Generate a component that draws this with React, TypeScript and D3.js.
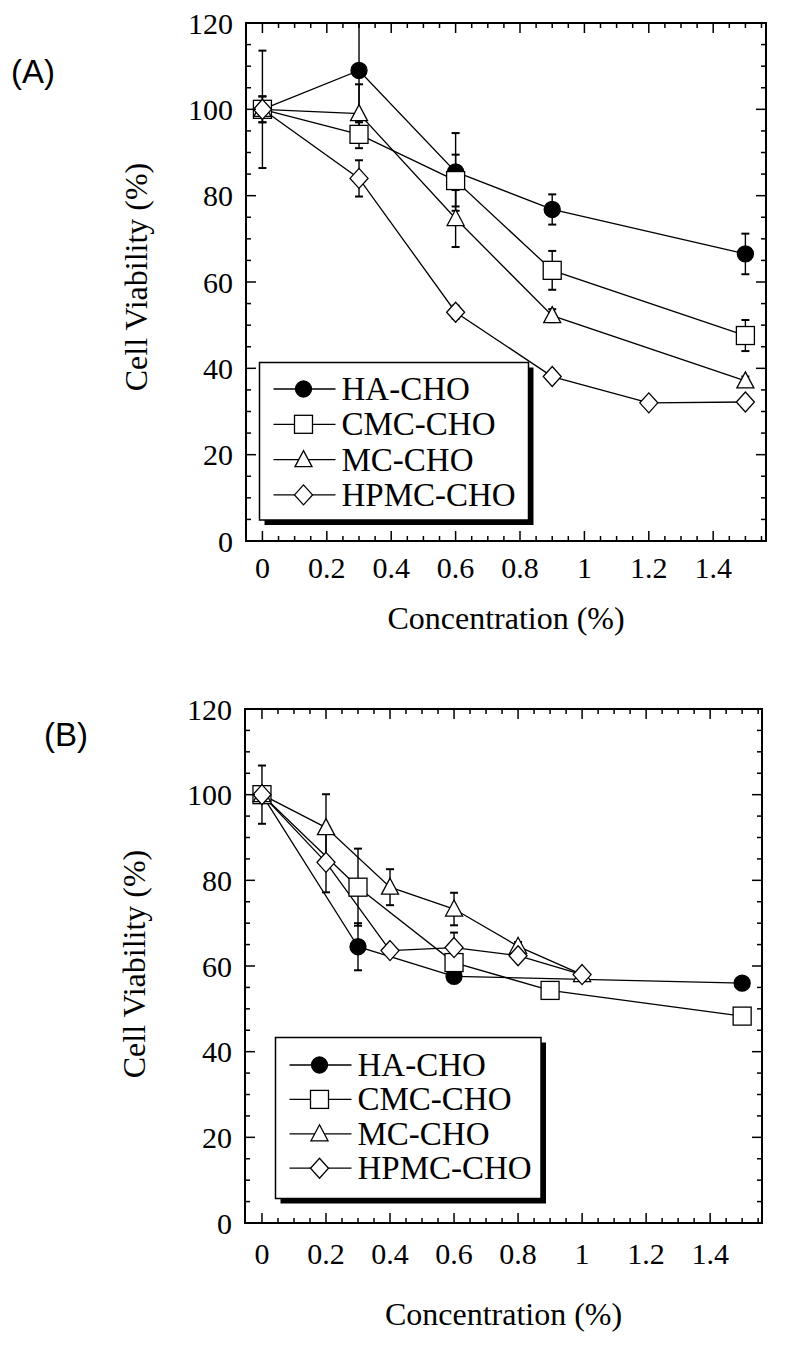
import React from "react";
import * as d3 from "d3";

// ---------- Data ----------
const seriesNames = ["HA-CHO", "CMC-CHO", "MC-CHO", "HPMC-CHO"];
const seriesMarkers = ["circle", "square", "triangle", "diamond"];

const xTickValues = [0, 0.2, 0.4, 0.6, 0.8, 1, 1.2, 1.4];
const yTickValues = [0, 20, 40, 60, 80, 100, 120];

// Panel A
const aHAx = [0, 0.3, 0.6, 0.9, 1.5];
const aHAy = [100, 109, 85.5, 76.8, 66.5];
const aHAe = [3, 12, 9, 3.5, 4.7];
const aCMCx = [0, 0.3, 0.6, 0.9, 1.5];
const aCMCy = [100, 94.2, 83.5, 62.7, 47.6];
const aCMCe = [3, 3.2, 6, 4.5, 3.6];
const aMCx = [0, 0.3, 0.6, 0.9, 1.5];
const aMCy = [100, 99, 74.7, 52.2, 37.1];
const aMCe = [13.6, 6.8, 6.6, 1.5, 1];
const aHPMCx = [0, 0.3, 0.6, 0.9, 1.2, 1.5];
const aHPMCy = [100, 84, 53, 38.1, 32, 32.2];
const aHPMCe = [1, 4.2, 1.5, 1, 0.5, 0.5];

// Panel B
const bHAx = [0, 0.3, 0.6, 1.5];
const bHAy = [100, 64.5, 57.6, 56];
const bHAe = [6.8, 5.5, 1, 1];
const bCMCx = [0, 0.3, 0.6, 0.9, 1.5];
const bCMCy = [100, 78.4, 60.8, 54.3, 48.3];
const bCMCe = [1, 9, 1, 1, 1];
const bMCx = [0, 0.2, 0.4, 0.6, 0.8, 1.0];
const bMCy = [100, 92.3, 78.4, 73.3, 64.6, 58];
const bMCe = [1, 7.8, 4.2, 3.8, 1, 1];
const bHPMCx = [0, 0.2, 0.4, 0.6, 0.8, 1.0];
const bHPMCy = [100, 84.2, 63.6, 64.3, 62.4, 58];
const bHPMCe = [1, 7, 1, 3.5, 1, 1];

const panelAData = [
  { x: aHAx, y: aHAy, e: aHAe },
  { x: aCMCx, y: aCMCy, e: aCMCe },
  { x: aMCx, y: aMCy, e: aMCe },
  { x: aHPMCx, y: aHPMCy, e: aHPMCe },
];
const panelBData = [
  { x: bHAx, y: bHAy, e: bHAe },
  { x: bCMCx, y: bCMCy, e: bCMCe },
  { x: bMCx, y: bMCy, e: bMCe },
  { x: bHPMCx, y: bHPMCy, e: bHPMCe },
];

const SERIF = "Liberation Serif";
const SANS = "Liberation Sans";

function Marker({ type, cx, cy }) {
  const sw = 1.3;
  if (type === "circle") return <circle cx={cx} cy={cy} r={8} fill="#000" stroke="#000" strokeWidth={sw} />;
  if (type === "square")
    return <rect x={cx - 9} y={cy - 9} width={18} height={18} fill="#fff" stroke="#000" strokeWidth={sw} />;
  if (type === "triangle")
    return (
      <path
        d={`M${cx},${cy - 9}L${cx + 8.5},${cy + 7}L${cx - 8.5},${cy + 7}Z`}
        fill="#fff"
        stroke="#000"
        strokeWidth={sw}
      />
    );
  return (
    <path
      d={`M${cx},${cy - 10}L${cx + 9},${cy}L${cx},${cy + 10}L${cx - 9},${cy}Z`}
      fill="#fff"
      stroke="#000"
      strokeWidth={sw}
    />
  );
}

function Panel({ cfg, data }) {
  const { left, right, top, bottom, xDomain } = cfg;
  const x = d3.scaleLinear().domain(xDomain).range([left, right]);
  const y = d3.scaleLinear().domain([0, 120]).range([bottom, top]);
  const line = d3
    .line<[number, number]>()
    .x((d) => x(d[0]))
    .y((d) => y(d[1]));
  const clipId = `clip-${cfg.id}`;

  const xMinor = d3.range(0, 1.5501, 0.05).map((v) => Math.round(v * 100) / 100);
  const yMinor = d3.range(0, 120.01, 5);
  const isMajorX = (v) => Math.abs(v / 0.2 - Math.round(v / 0.2)) < 1e-6;
  const isMajorY = (v) => v % 20 === 0;

  const tickEls = [];
  xMinor.forEach((v, i) => {
    const len = isMajorX(v) ? 10 : 5;
    const px = x(v);
    tickEls.push(<line key={`xb${i}`} x1={px} x2={px} y1={bottom} y2={bottom - len} stroke="#000" strokeWidth={1.5} />);
    tickEls.push(<line key={`xt${i}`} x1={px} x2={px} y1={top} y2={top + len} stroke="#000" strokeWidth={1.5} />);
  });
  yMinor.forEach((v, i) => {
    if (v === 0 || v === 120) return;
    const len = isMajorY(v) ? 10 : 5;
    const py = y(v);
    tickEls.push(<line key={`yl${i}`} x1={left} x2={left + len} y1={py} y2={py} stroke="#000" strokeWidth={1.5} />);
    tickEls.push(<line key={`yr${i}`} x1={right} x2={right - len} y1={py} y2={py} stroke="#000" strokeWidth={1.5} />);
  });

  const lg = cfg.legend;

  return (
    <g>
      <defs>
        <clipPath id={clipId}>
          <rect x={left} y={top} width={right - left} height={bottom - top} />
        </clipPath>
      </defs>
      {/* Panel label */}
      <text x={cfg.labelX} y={cfg.labelY} style={{ fontFamily: SANS }} fontSize={33} fill="#000">
        {cfg.label}
      </text>
      {/* error bars and lines */}
      <g clipPath={`url(#${clipId})`}>
        {data.map((s, si) =>
          s.x.map((xv, i) => {
            const px = x(xv);
            const y1 = y(s.y[i] + s.e[i]);
            const y2 = y(s.y[i] - s.e[i]);
            return (
              <g key={`e${si}-${i}`} stroke="#000" strokeWidth={1.4}>
                <line x1={px} x2={px} y1={y1} y2={y2} />
                <line x1={px - 4} x2={px + 4} y1={y1} y2={y1} strokeWidth={2} />
                <line x1={px - 4} x2={px + 4} y1={y2} y2={y2} strokeWidth={2} />
              </g>
            );
          })
        )}
        {data.map((s, si) => (
          <path
            key={`l${si}`}
            d={line(s.x.map((xv, i) => [xv, s.y[i]]))}
            fill="none"
            stroke="#000"
            strokeWidth={1.3}
          />
        ))}
      </g>
      {/* markers */}
      {data.map((s, si) =>
        s.x.map((xv, i) => <Marker key={`m${si}-${i}`} type={seriesMarkers[si]} cx={x(xv)} cy={y(s.y[i])} />)
      )}
      {/* ticks */}
      {tickEls}
      {/* frame */}
      <rect x={left} y={top} width={right - left} height={bottom - top} fill="none" stroke="#000" strokeWidth={2} />
      {/* y tick labels */}
      {yTickValues.map((v) => (
        <text
          key={`yl${v}`}
          x={left - 13}
          y={y(v)}
          textAnchor="end"
          dominantBaseline="central"
          style={{ fontFamily: SERIF }}
          fontSize={30}
          fill="#000"
        >
          {v}
        </text>
      ))}
      {/* x tick labels */}
      {xTickValues.map((v) => (
        <text
          key={`xl${v}`}
          x={x(v)}
          y={cfg.xTickBaseline}
          textAnchor="middle"
          style={{ fontFamily: SERIF }}
          fontSize={30}
          fill="#000"
        >
          {String(v)}
        </text>
      ))}
      {/* axis titles */}
      <text
        x={(left + right) / 2}
        y={cfg.xTitleBaseline}
        textAnchor="middle"
        style={{ fontFamily: SERIF }}
        fontSize={32}
        fill="#000"
      >
        Concentration (%)
      </text>
      <text
        transform={`translate(${cfg.yTitleX},${cfg.yTitleY}) rotate(-90)`}
        textAnchor="middle"
        style={{ fontFamily: SERIF }}
        fontSize={32}
        fill="#000"
      >
        Cell Viability (%)
      </text>
      {/* legend */}
      <rect x={lg.x + 5} y={lg.y + 5} width={lg.w} height={lg.h} fill="#000" />
      <rect x={lg.x} y={lg.y} width={lg.w} height={lg.h} fill="#fff" stroke="#000" strokeWidth={1.5} />
      {seriesNames.map((name, i) => {
        const ry = lg.y + lg.firstRow + i * lg.rowGap;
        return (
          <g key={`lg${i}`}>
            <line x1={lg.x + 14} x2={lg.x + 76} y1={ry} y2={ry} stroke="#000" strokeWidth={1.3} />
            <Marker type={seriesMarkers[i]} cx={lg.x + 44} cy={ry} />
            <text x={lg.x + 82} y={ry + 11} style={{ fontFamily: SERIF }} fontSize={33} fill="#000">
              {name}
            </text>
          </g>
        );
      })}
    </g>
  );
}

const cfgA = {
  id: "A",
  left: 246,
  right: 766,
  top: 23,
  bottom: 541,
  xDomain: [-0.051, 1.564],
  label: "(A)",
  labelX: 11,
  labelY: 83,
  xTickBaseline: 578,
  xTitleBaseline: 629,
  yTitleX: 147,
  yTitleY: 277,
  legend: { x: 259.5, y: 362.5, w: 269, h: 157.5, firstRow: 26.5, rowGap: 35.3 },
};

const cfgB = {
  id: "B",
  left: 245,
  right: 762,
  top: 709,
  bottom: 1223,
  xDomain: [-0.053, 1.562],
  label: "(B)",
  labelX: 44,
  labelY: 746,
  xTickBaseline: 1264,
  xTitleBaseline: 1325,
  yTitleX: 145,
  yTitleY: 964,
  legend: { x: 275.5, y: 1037.5, w: 265.5, h: 161, firstRow: 27.5, rowGap: 34.4 },
};

export default function App() {
  return (
    <svg
      width={800}
      height={1345}
      viewBox="0 0 800 1345"
      style={{ position: "absolute", left: 0, top: 0, background: "#fff" }}
    >
      <rect x={0} y={0} width={800} height={1345} fill="#fff" />
      <Panel cfg={cfgA} data={panelAData} />
      <Panel cfg={cfgB} data={panelBData} />
    </svg>
  );
}
